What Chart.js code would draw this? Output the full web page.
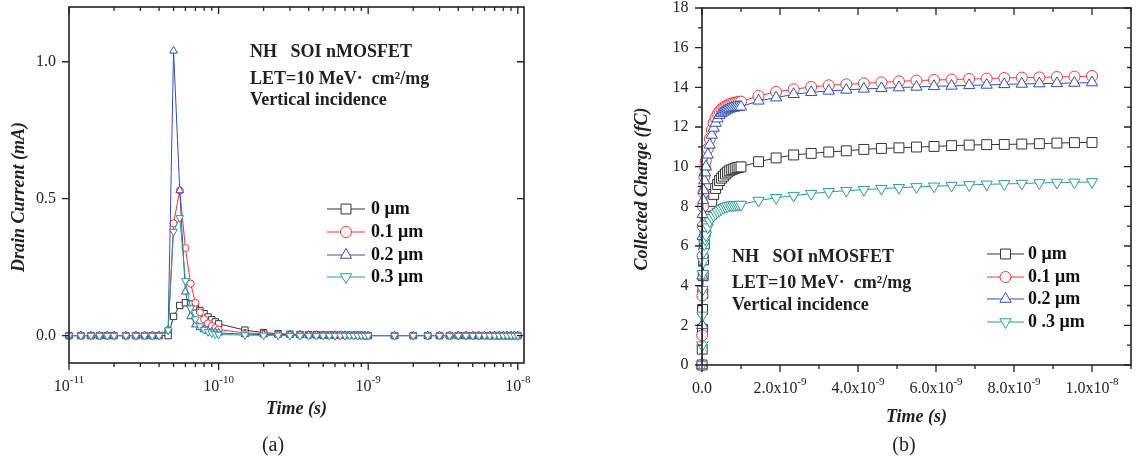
<!DOCTYPE html>
<html>
<head>
<meta charset="utf-8">
<script src="https://cdn.jsdelivr.net/npm/chart.js@4/dist/chart.umd.min.js"></script>
<style>
  body { margin: 0; background: #fff; }
  .panel { position: absolute; top: 0; height: 461px; }
  #pa { left: 0; width: 560px; }
  #pb { left: 580px; width: 559px; }
</style>
</head>
<body>
<div class="panel" id="pa"><canvas id="chartA"></canvas></div>
<div class="panel" id="pb"><canvas id="chartB"></canvas></div>
<script>
// ---- panel (a): drain current vs time (log time axis) ----
const aTime = [1.0e-11, 1.2e-11, 1.4e-11, 1.6e-11, 1.8e-11, 2.0e-11, 2.4e-11, 2.8e-11, 3.2e-11, 3.6e-11, 4.0e-11, 4.6e-11,
  5.0e-11, 5.5e-11, 6.0e-11, 6.5e-11, 7.0e-11, 7.5e-11, 8.0e-11, 8.5e-11, 9.0e-11, 9.5e-11, 1.0e-10,
  1.5e-10, 2.0e-10, 2.5e-10, 3.0e-10, 3.5e-10, 4.0e-10, 4.5e-10, 5.0e-10, 5.5e-10, 6.0e-10, 6.5e-10, 7.0e-10, 7.5e-10, 8.0e-10, 8.5e-10, 9.0e-10, 9.5e-10, 1.0e-9,
  1.5e-9, 2.0e-9, 2.5e-9, 3.0e-9, 3.5e-9, 4.0e-9, 4.5e-9, 5.0e-9, 5.5e-9, 6.0e-9, 6.5e-9, 7.0e-9, 7.5e-9, 8.0e-9, 8.5e-9, 9.0e-9, 9.5e-9, 1.0e-8];
const aI0 = [0, 0, 0, 0, 0, 0, 0, 0, 0, 0, 0, 0,
  0.07, 0.11, 0.12, 0.115, 0.105, 0.092, 0.08, 0.068, 0.058, 0.05, 0.043,
  0.02, 0.011, 0.007, 0.005, 0.004, 0.003, 0.003, 0.002, 0.002, 0.002, 0.001, 0.001, 0.001, 0.001, 0.001, 0.001, 0, 0,
  0, 0, 0, 0, 0, 0, 0, 0, 0, 0, 0, 0, 0, 0, 0, 0, 0, 0];
const aI1 = [0, 0, 0, 0, 0, 0, 0, 0, 0, 0, 0, 0.02,
  0.41, 0.53, 0.32, 0.19, 0.12, 0.085, 0.06, 0.045, 0.035, 0.028, 0.022,
  0.01, 0.007, 0.005, 0.004, 0.003, 0.002, 0.002, 0.002, 0.001, 0.001, 0.001, 0.001, 0.001, 0, 0, 0, 0, 0,
  0, 0, 0, 0, 0, 0, 0, 0, 0, 0, 0, 0, 0, 0, 0, 0, 0, 0];
const aI2 = [0, 0, 0, 0, 0, 0, 0, 0, 0, 0, 0, 0.02,
  1.04, 0.53, 0.16, 0.07, 0.04, 0.03, 0.022, 0.017, 0.014, 0.012, 0.01,
  0.005, 0.004, 0.003, 0.003, 0.002, 0.002, 0.002, 0.001, 0.001, 0.001, 0.001, 0.001, 0, 0, 0, 0, 0, 0,
  0, 0, 0, 0, 0, 0, 0, 0, 0, 0, 0, 0, 0, 0, 0, 0, 0, 0];
const aI3 = [0, 0, 0, 0, 0, 0, 0, 0, 0, 0, 0, 0.02,
  0.38, 0.43, 0.2, 0.1, 0.06, 0.035, 0.022, 0.014, 0.009, 0.006, 0.004,
  0.002, 0.001, 0.001, 0, 0, 0, 0, 0, 0, 0, 0, 0, 0, 0, 0, 0, 0, 0,
  0, 0, 0, 0, 0, 0, 0, 0, 0, 0, 0, 0, 0, 0, 0, 0, 0, 0];
const aSeries = ['0 μm', '0.1 μm', '0.2 μm', '0.3 μm'];
const aYTicks = [0, 0.5, 1.0];
const aXTicks = [1e-11, 1e-10, 1e-9, 1e-8];
const aXTickBase = ['10', '10', '10', '10'];
const aXTickExp = ['-11', '-10', '-9', '-8'];

// ---- panel (b): collected charge vs time (linear) ----
const bTime = [0, 0.005e-9, 0.01e-9, 0.015e-9, 0.02e-9, 0.03e-9, 0.04e-9, 0.06e-9, 0.08e-9, 0.1e-9,
  0.15e-9, 0.2e-9, 0.25e-9, 0.3e-9, 0.35e-9, 0.4e-9, 0.45e-9, 0.5e-9, 0.55e-9, 0.6e-9,
  0.65e-9, 0.7e-9, 0.75e-9, 0.8e-9, 0.85e-9, 0.9e-9, 0.95e-9, 1.0e-9,
  1.45e-9, 1.9e-9, 2.35e-9, 2.8e-9, 3.25e-9, 3.7e-9, 4.15e-9, 4.6e-9, 5.05e-9, 5.5e-9,
  5.95e-9, 6.4e-9, 6.85e-9, 7.3e-9, 7.75e-9, 8.2e-9, 8.65e-9, 9.1e-9, 9.55e-9, 1.0e-8];
const bQ0 = [0, 0.8, 1.8, 2.8, 3.6, 4.5, 5.3, 6.1, 6.8, 7.4,
  7.8, 8.0, 8.25, 8.6, 8.9, 9.1, 9.3, 9.42, 9.52, 9.63,
  9.72, 9.79, 9.84, 9.88, 9.92, 9.95, 9.97, 9.99,
  10.25, 10.44, 10.59, 10.67, 10.74, 10.8, 10.87, 10.92, 10.95, 10.99,
  11.02, 11.06, 11.09, 11.11, 11.12, 11.14, 11.16, 11.19, 11.21, 11.22];
const bQ1 = [0, 1.5, 3.5, 5.5, 7.0, 8.0, 8.7, 9.5, 9.95, 10.3,
  10.9, 11.4, 11.85, 12.2, 12.45, 12.65, 12.8, 12.9, 12.98, 13.05,
  13.1, 13.14, 13.18, 13.21, 13.23, 13.25, 13.27, 13.28,
  13.57, 13.77, 13.9, 14.02, 14.1, 14.15, 14.2, 14.25, 14.3, 14.34,
  14.37, 14.39, 14.42, 14.44, 14.47, 14.49, 14.5, 14.52, 14.54, 14.57];
const bQ2 = [0, 2.0, 4.5, 6.5, 7.6, 8.3, 8.8, 9.3, 9.7, 10.0,
  10.6, 11.1, 11.6, 11.95, 12.2, 12.42, 12.6, 12.7, 12.76, 12.82,
  12.87, 12.91, 12.94, 12.96, 12.98, 13.0, 13.01, 13.02,
  13.32, 13.48, 13.65, 13.75, 13.82, 13.87, 13.92, 13.95, 13.99, 14.02,
  14.05, 14.07, 14.1, 14.12, 14.15, 14.17, 14.19, 14.2, 14.22, 14.24];
const bQ3 = [0, 1.0, 2.5, 3.8, 4.6, 5.2, 5.7, 6.1, 6.35, 6.55,
  6.95, 7.25, 7.42, 7.54, 7.64, 7.73, 7.8, 7.87, 7.93, 7.98,
  8.01, 8.04, 8.05, 8.06, 8.07, 8.08, 8.085, 8.09,
  8.29, 8.43, 8.54, 8.64, 8.73, 8.79, 8.84, 8.89, 8.94, 8.98,
  9.01, 9.05, 9.08, 9.11, 9.13, 9.15, 9.18, 9.2, 9.21, 9.23];
const bSeries = ['0 μm', '0.1 μm', '0.2 μm', '0 .3 μm'];
const bXTicks = [0, 2e-9, 4e-9, 6e-9, 8e-9, 1e-8];
const bXTickBase = ['0.0', '2.0x10', '4.0x10', '6.0x10', '8.0x10', '1.0x10'];
const bXTickExp = ['', '-9', '-9', '-9', '-9', '-8'];

const noteLines = ['NH   SOI nMOSFET', 'LET=10 MeV·  cm²/mg', 'Vertical incidence'];

const SERIF = "'Liberation Serif', 'DejaVu Serif', serif";
const colors = ['#333333', '#f03a3a', '#2f50b0', '#2e9a95'];
const styles = [
  { pointStyle: 'rect', rot: 0, big: 7, small: 4.5 },
  { pointStyle: 'circle', rot: 0, big: 5.5, small: 3.5 },
  { pointStyle: 'triangle', rot: 0, big: 6.5, small: 4.5 },
  { pointStyle: 'triangle', rot: 180, big: 6.5, small: 4.5 }
];

Chart.defaults.font.family = SERIF;
Chart.defaults.color = '#222';

function makeSets(time, series, labels, size) {
  return series.map((vals, i) => ({
    label: labels[i],
    data: vals.map((v, k) => ({ x: time[k], y: v })),
    borderColor: colors[i],
    backgroundColor: '#fff',
    borderWidth: 1,
    pointStyle: styles[i].pointStyle,
    pointRotation: styles[i].rot,
    pointRadius: styles[i][size],
    pointBorderWidth: 1,
    pointBackgroundColor: '#fff',
    tension: 0,
    clip: false,
    order: 3 - i
  }));
}

function drawMark(ctx, ds, x, y, r) {
  ctx.save();
  ctx.strokeStyle = ds.borderColor;
  ctx.fillStyle = '#fff';
  ctx.lineWidth = 1;
  Chart.helpers.drawPoint(ctx, { pointStyle: ds.pointStyle, radius: r, rotation: ds.pointRotation, borderWidth: 1 }, x, y);
  ctx.restore();
}

const deco = {
  id: 'deco',
  afterDraw(chart, args, o) {
    const ctx = chart.ctx, a = chart.chartArea;
    const xs = chart.scales.x, ys = chart.scales.y;
    ctx.save();
    // tick marks: outward on bottom/left, inward on top/right
    ctx.strokeStyle = '#222';
    ctx.lineWidth = 1.3;
    ctx.beginPath();
    xs.ticks.forEach(t => {
      const k = o.xTick(t.value);
      if (!k) return;
      const len = k === 2 ? 7 : 4;
      const px = xs.getPixelForValue(t.value);
      ctx.moveTo(px, a.bottom); ctx.lineTo(px, a.bottom + len);
      ctx.moveTo(px, a.top); ctx.lineTo(px, a.top + len);
    });
    ys.ticks.forEach(t => {
      const k = o.yTick(t.value);
      if (!k) return;
      const len = k === 2 ? 7 : 4;
      const py = ys.getPixelForValue(t.value);
      ctx.moveTo(a.left, py); ctx.lineTo(a.left - len, py);
      ctx.moveTo(a.right, py); ctx.lineTo(a.right - len, py);
    });
    ctx.stroke();
    ctx.lineWidth = 1.6;
    ctx.strokeRect(a.left, a.top, a.right - a.left, a.bottom - a.top);

    // x tick labels with superscript exponents
    ctx.fillStyle = '#222';
    ctx.textBaseline = 'alphabetic';
    ctx.textAlign = 'left';
    o.xVals.forEach((v, i) => {
      const px = xs.getPixelForValue(v);
      ctx.font = '16px ' + SERIF;
      const wb = ctx.measureText(o.xBase[i]).width;
      ctx.font = '11px ' + SERIF;
      const we = ctx.measureText(o.xExp[i]).width;
      const x0 = px - (wb + we) / 2;
      ctx.font = '16px ' + SERIF;
      ctx.fillText(o.xBase[i], x0, o.xLabelY);
      ctx.font = '11px ' + SERIF;
      ctx.fillText(o.xExp[i], x0 + wb, o.xLabelY - 8);
    });

    // y axis title
    ctx.save();
    ctx.translate(o.yTitle.x, o.yTitle.y);
    ctx.rotate(-Math.PI / 2);
    ctx.font = 'italic bold 18px ' + SERIF;
    ctx.textAlign = 'center';
    ctx.textBaseline = 'middle';
    ctx.fillText(o.yTitle.text, 0, 0);
    ctx.restore();

    // annotation text
    ctx.font = 'bold 18px ' + SERIF;
    ctx.textBaseline = 'middle';
    ctx.textAlign = 'left';
    noteLines.forEach((s, i) => ctx.fillText(s, o.note.x, o.note.y[i]));

    // legend
    const lg = o.legend;
    chart.data.datasets.forEach((ds, i) => {
      const y = lg.y[i];
      ctx.strokeStyle = ds.borderColor;
      ctx.lineWidth = 1.2;
      ctx.beginPath();
      ctx.moveTo(lg.x0, y); ctx.lineTo(lg.x1, y);
      ctx.stroke();
      drawMark(ctx, ds, (lg.x0 + lg.x1) / 2, y, styles[i].big);
      ctx.fillStyle = '#111';
      ctx.font = 'bold 18px ' + SERIF;
      ctx.fillText(ds.label, lg.tx, y);
    });

    // panel label
    ctx.font = '20px ' + SERIF;
    ctx.textAlign = 'center';
    ctx.fillStyle = '#222';
    ctx.fillText(o.panel.text, o.panel.x, o.panel.y);
    ctx.restore();
  }
};

function isInt(r) { return Math.abs(r - Math.round(r)) < 1e-6; }

new Chart(document.getElementById('chartA'), {
  type: 'line',
  data: { datasets: makeSets(aTime, [aI0, aI1, aI2, aI3], aSeries, 'small') },
  options: {
    responsive: true,
    maintainAspectRatio: false,
    animation: false,
    devicePixelRatio: 1,
    layout: { padding: { top: 7, right: 36, bottom: 0, left: 0 } },
    plugins: {
      legend: { display: false },
      tooltip: { enabled: false },
      deco: {
        xTick: v => {
          const e = Math.floor(Math.log10(v) + 1e-9);
          const m = v / Math.pow(10, e);
          if (!isInt(m)) return 0;
          return Math.round(m) === 1 ? 2 : 1;
        },
        yTick: v => 2,
        xVals: aXTicks, xBase: aXTickBase, xExp: aXTickExp, xLabelY: 391,
        yTitle: { text: 'Drain Current (mA)', x: 19, y: 197 },
        note: { x: 250, y: [52, 79, 100] },
        legend: { x0: 327, x1: 365, tx: 371, y: [209, 232, 255, 277] },
        panel: { text: '(a)', x: 273, y: 446 }
      }
    },
    scales: {
      x: {
        type: 'logarithmic',
        min: 1e-11,
        max: 1.1e-8,
        grid: { display: false, drawTicks: false },
        border: { display: false },
        ticks: { display: false },
        title: { display: true, text: 'Time (s)', font: { size: 18, style: 'italic', weight: 'bold' }, padding: { top: 0, bottom: 41 } },
        afterFit: s => { s.height = 98; s.paddingLeft = 0; s.paddingRight = 0; }
      },
      y: {
        type: 'linear',
        min: -0.1,
        max: 1.2,
        grid: { display: false, drawTicks: false },
        border: { display: false },
        ticks: {
          stepSize: 0.5,
          includeBounds: false,
          autoSkip: false,
          padding: 13,
          font: { size: 16 },
          callback: v => aYTicks.some(t => Math.abs(t - v) < 1e-9) ? v.toFixed(1) : ''
        },
        afterFit: s => { s.width = 69; s.paddingTop = 0; s.paddingBottom = 0; }
      }
    }
  },
  plugins: [deco]
});

new Chart(document.getElementById('chartB'), {
  type: 'line',
  data: { datasets: makeSets(bTime, [bQ0, bQ1, bQ2, bQ3], bSeries, 'big') },
  options: {
    responsive: true,
    maintainAspectRatio: false,
    animation: false,
    devicePixelRatio: 1,
    layout: { padding: { top: 7, right: 1, bottom: 0, left: 0 } },
    plugins: {
      legend: { display: false },
      tooltip: { enabled: false },
      deco: {
        xTick: v => {
          const r = v / 1e-9;
          if (!isInt(r)) return 0;
          return Math.round(r) % 2 === 0 ? 2 : 1;
        },
        yTick: v => (Math.round(v) % 2 === 0 ? 2 : 1),
        xVals: bXTicks, xBase: bXTickBase, xExp: bXTickExp, xLabelY: 393,
        yTitle: { text: 'Collected Charge (fC)', x: 62, y: 189 },
        note: { x: 152, y: [257, 283, 305] },
        legend: { x0: 407, x1: 444, tx: 448, y: [254, 277, 299, 322] },
        panel: { text: '(b)', x: 324, y: 446 }
      }
    },
    scales: {
      x: {
        type: 'linear',
        min: 0,
        max: 1.1e-8,
        grid: { display: false, drawTicks: false },
        border: { display: false },
        ticks: { display: false, stepSize: 1e-9, maxTicksLimit: 100 },
        title: { display: true, text: 'Time (s)', font: { size: 18, style: 'italic', weight: 'bold' }, padding: { top: 0, bottom: 33 } },
        afterFit: s => { s.height = 96; s.paddingLeft = 0; s.paddingRight = 0; }
      },
      y: {
        type: 'linear',
        min: 0,
        max: 18,
        grid: { display: false, drawTicks: false },
        border: { display: false },
        ticks: {
          stepSize: 1,
          maxTicksLimit: 100,
          autoSkip: false,
          padding: 13.5,
          font: { size: 16 },
          callback: v => (Math.round(v) % 2 === 0 ? String(v) : '')
        },
        afterFit: s => { s.width = 122; s.paddingTop = 0; s.paddingBottom = 0; }
      }
    }
  },
  plugins: [deco]
});
</script>
</body>
</html>
